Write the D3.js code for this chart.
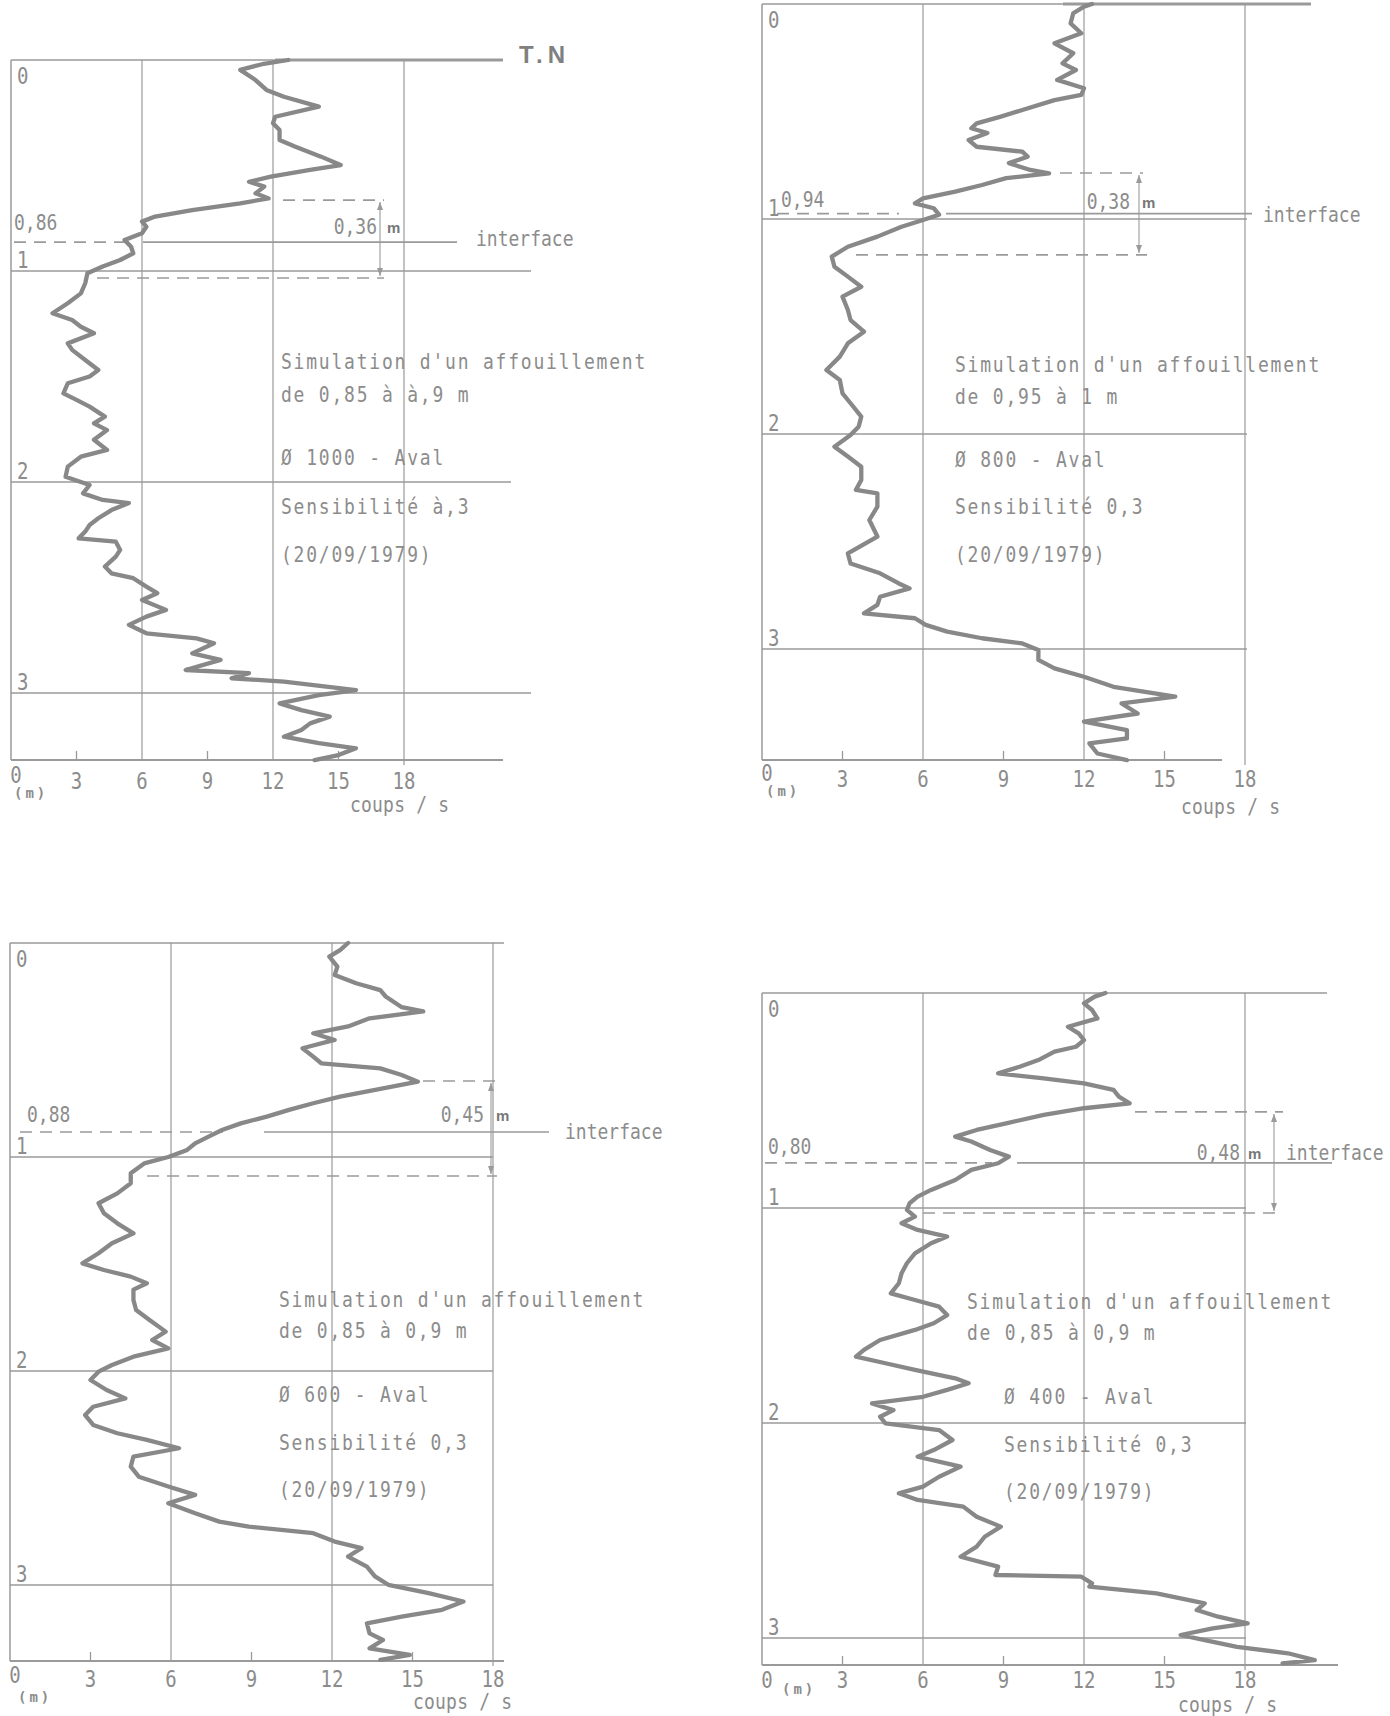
<!DOCTYPE html>
<html>
<head>
<meta charset="utf-8">
<script src="https://cdn.jsdelivr.net/npm/d3@7/dist/d3.min.js"></script>
<style>
  body { margin: 0; background: #fff; }
</style>
</head>
<body>
<div id="fig"></div>
<script>
// count rate axis (coups / s) and depth axis (m)
var rateTicks = [0, 3, 6, 9, 12, 15, 18]
var smallTicks = [3, 9, 15]
var gridRates = [6, 12, 18]
var depthMarks = [0, 1, 2, 3]

// panel 1 : diam 1000
var p1Depth = [0, 0.02, 0.047, 0.095, 0.142, 0.174, 0.221, 0.269, 0.30, 0.332, 0.379, 0.41, 0.458, 0.498, 0.521, 0.553, 0.577, 0.60, 0.632, 0.656, 0.679, 0.711, 0.742, 0.766, 0.79, 0.821, 0.853, 0.885, 0.916, 0.948, 0.979, 1.011, 1.058, 1.106, 1.153, 1.20, 1.232, 1.264, 1.295, 1.343, 1.374, 1.422, 1.469, 1.50, 1.532, 1.58, 1.611, 1.643, 1.69, 1.722, 1.754, 1.80, 1.848, 1.88, 1.927, 1.975, 2.014, 2.054, 2.085, 2.10, 2.133, 2.172, 2.204, 2.235, 2.267, 2.283, 2.322, 2.354, 2.401, 2.433, 2.456, 2.496, 2.527, 2.559, 2.606, 2.638, 2.677, 2.717, 2.741, 2.764, 2.812, 2.843, 2.891, 2.906, 2.93, 2.946, 2.986, 3.01, 3.049, 3.081, 3.112, 3.144, 3.175, 3.207, 3.238, 3.262, 3.294, 3.318]
var p1Rate  = [12.7, 11.5, 10.5, 11.2, 11.7, 12.5, 14.1, 12.1, 12.0, 12.3, 12.3, 13.0, 14.2, 15.1, 13.7, 11.9, 10.9, 11.6, 11.2, 11.8, 10.5, 8.3, 6.6, 6.0, 6.2, 6.0, 5.2, 5.5, 5.6, 5.0, 4.2, 3.5, 3.4, 3.2, 2.6, 1.9, 2.8, 3.2, 3.8, 2.6, 2.8, 3.4, 4.0, 3.6, 2.6, 2.4, 3.0, 3.6, 4.3, 3.8, 4.4, 3.8, 4.4, 3.2, 2.6, 2.5, 3.6, 3.3, 4.2, 5.4, 4.6, 4.0, 3.6, 3.4, 3.1, 4.8, 5.0, 4.8, 4.3, 4.6, 5.6, 6.2, 6.7, 6.0, 7.1, 6.2, 5.4, 6.2, 8.5, 9.3, 8.3, 9.6, 8.0, 10.9, 10.1, 12.5, 15.8, 14.1, 12.3, 13.3, 14.6, 13.7, 13.3, 12.5, 14.1, 15.8, 15.0, 13.9]

// panel 2 : diam 800
var p2Depth = [0, 0.012, 0.043, 0.09, 0.136, 0.183, 0.229, 0.276, 0.307, 0.353, 0.392, 0.423, 0.447, 0.493, 0.524, 0.555, 0.578, 0.60, 0.633, 0.664, 0.687, 0.71, 0.74, 0.772, 0.788, 0.81, 0.842, 0.873, 0.904, 0.927, 0.95, 0.98, 1.005, 1.036, 1.082, 1.129, 1.175, 1.222, 1.268, 1.315, 1.361, 1.423, 1.47, 1.524, 1.578, 1.64, 1.702, 1.749, 1.811, 1.857, 1.919, 1.966, 2.005, 2.059, 2.105, 2.152, 2.214, 2.26, 2.276, 2.338, 2.40, 2.477, 2.555, 2.602, 2.648, 2.695, 2.718, 2.757, 2.795, 2.834, 2.857, 2.888, 2.919, 2.95, 2.974, 3.005, 3.051, 3.09, 3.129, 3.176, 3.222, 3.253, 3.30, 3.338, 3.377, 3.416, 3.439, 3.486, 3.517]
var p2Rate  = [12.3, 12.0, 11.6, 11.5, 11.9, 10.9, 11.6, 11.2, 11.7, 11.0, 12.0, 11.9, 10.9, 9.7, 8.9, 8.0, 7.8, 8.4, 7.7, 8.0, 9.7, 9.9, 9.2, 10.0, 10.7, 9.1, 8.2, 7.2, 6.0, 5.7, 6.4, 6.6, 6.0, 5.2, 4.3, 3.2, 2.6, 2.7, 3.2, 3.7, 3.0, 3.2, 3.3, 3.8, 3.2, 2.9, 2.4, 2.9, 3.0, 3.3, 3.7, 3.6, 3.3, 2.7, 3.2, 3.7, 3.7, 3.5, 4.3, 4.3, 4.0, 4.3, 3.2, 3.3, 4.4, 5.1, 5.5, 4.4, 4.3, 3.8, 5.7, 6.1, 6.9, 8.2, 9.7, 10.3, 10.3, 10.9, 12.0, 13.1, 15.4, 13.4, 14.0, 12.0, 13.6, 13.6, 12.2, 12.5, 13.6]

// panel 3 : diam 600
var p3Depth = [0, 0.033, 0.064, 0.11, 0.15, 0.188, 0.22, 0.25, 0.30, 0.32, 0.352, 0.39, 0.422, 0.453, 0.492, 0.531, 0.562, 0.586, 0.617, 0.648, 0.679, 0.718, 0.749, 0.78, 0.81, 0.843, 0.874, 0.905, 0.936, 0.967, 1.00, 1.03, 1.076, 1.123, 1.17, 1.216, 1.263, 1.31, 1.357, 1.403, 1.45, 1.497, 1.528, 1.559, 1.59, 1.62, 1.668, 1.715, 1.762, 1.816, 1.855, 1.894, 1.933, 1.972, 2.003, 2.042, 2.089, 2.128, 2.167, 2.206, 2.252, 2.291, 2.322, 2.361, 2.40, 2.447, 2.494, 2.54, 2.579, 2.618, 2.665, 2.704, 2.727, 2.758, 2.797, 2.828, 2.867, 2.914, 2.96, 2.999, 3.038, 3.077, 3.116, 3.148, 3.179, 3.226, 3.257, 3.296, 3.327, 3.35]
var p3Rate  = [12.6, 12.3, 11.9, 12.2, 12.1, 12.9, 13.8, 14.0, 14.6, 15.4, 13.4, 12.6, 11.3, 12.1, 10.9, 11.3, 11.6, 13.8, 14.6, 15.2, 13.9, 12.3, 11.3, 10.4, 9.6, 8.6, 7.9, 7.4, 6.9, 6.6, 5.9, 5.0, 4.5, 4.5, 4.0, 3.3, 3.5, 4.0, 4.6, 3.8, 3.3, 2.7, 3.5, 4.5, 5.1, 4.6, 4.6, 4.7, 5.2, 5.8, 5.3, 5.9, 4.6, 3.8, 3.3, 3.0, 3.6, 4.3, 3.1, 2.8, 3.1, 4.0, 5.1, 6.3, 4.6, 4.5, 4.8, 5.9, 6.9, 5.9, 6.9, 7.8, 8.9, 11.3, 12.1, 13.1, 12.6, 13.3, 13.6, 14.1, 15.6, 16.9, 16.1, 14.6, 13.3, 13.4, 13.9, 13.4, 14.9, 13.8]

// panel 4 : diam 400
var p4Depth = [0, 0.017, 0.048, 0.079, 0.118, 0.157, 0.188, 0.219, 0.25, 0.273, 0.312, 0.343, 0.374, 0.397, 0.42, 0.451, 0.482, 0.513, 0.536, 0.567, 0.606, 0.637, 0.668, 0.691, 0.73, 0.761, 0.792, 0.823, 0.87, 0.916, 0.947, 0.978, 1.009, 1.04, 1.071, 1.102, 1.133, 1.164, 1.211, 1.257, 1.304, 1.35, 1.397, 1.428, 1.459, 1.498, 1.536, 1.567, 1.614, 1.66, 1.691, 1.722, 1.753, 1.792, 1.815, 1.846, 1.878, 1.909, 1.94, 1.971, 2.002, 2.033, 2.079, 2.126, 2.157, 2.203, 2.25, 2.296, 2.327, 2.358, 2.389, 2.436, 2.482, 2.529, 2.575, 2.622, 2.668, 2.707, 2.715, 2.746, 2.761, 2.792, 2.839, 2.87, 2.901, 2.932, 2.955, 2.986, 3.01, 3.041, 3.071, 3.103, 3.118]
var p4Rate  = [12.8, 12.4, 12.0, 12.3, 12.5, 11.4, 11.8, 12.0, 11.7, 10.9, 10.3, 9.6, 8.8, 10.5, 12.0, 13.1, 13.3, 13.7, 12.0, 10.5, 9.1, 8.0, 7.2, 7.8, 8.5, 9.2, 8.8, 7.8, 7.2, 6.3, 5.8, 5.5, 5.4, 5.7, 5.2, 5.8, 6.9, 6.3, 5.7, 5.4, 5.2, 5.1, 4.8, 5.7, 6.6, 6.9, 6.4, 5.7, 4.4, 3.8, 3.5, 4.6, 5.7, 7.2, 7.7, 6.9, 6.0, 4.1, 4.9, 4.4, 4.6, 6.6, 7.1, 6.4, 5.8, 7.4, 6.6, 6.0, 5.1, 5.8, 7.5, 8.0, 8.9, 8.3, 8.0, 7.4, 8.8, 8.7, 11.9, 12.3, 12.2, 14.7, 16.5, 16.2, 17.0, 18.1, 16.8, 15.6, 16.5, 17.7, 19.6, 20.6, 19.4]

// interface / scour (m)
var ifaceDepth = [0.863, 0.975, 0.883, 0.79]
var ifaceLabel = ["0,86", "0,94", "0,88", "0,80"]
var scourTop = [0.664, 0.786, 0.645, 0.553]
var scourBottom = [1.033, 1.167, 1.089, 1.023]
var scourLabel = ["0,36", "0,38", "0,45", "0,48"]

var notes = [
  ["Simulation d'un affouillement", "de 0,85 à à,9 m", "Ø 1000 - Aval", "Sensibilité à,3", "(20/09/1979)"],
  ["Simulation d'un affouillement", "de 0,95 à 1 m", "Ø 800 - Aval", "Sensibilité 0,3", "(20/09/1979)"],
  ["Simulation d'un affouillement", "de 0,85 à 0,9 m", "Ø 600 - Aval", "Sensibilité 0,3", "(20/09/1979)"],
  ["Simulation d'un affouillement", "de 0,85 à 0,9 m", "Ø 400 - Aval", "Sensibilité 0,3", "(20/09/1979)"]
]

var series = [[p1Depth, p1Rate], [p2Depth, p2Rate], [p3Depth, p3Rate], [p4Depth, p4Rate]]

// layout of the four panels (pixels)
var layout = [
  {x0: 11, x18: 404, y0: 60, pm: 211, axisY: 760, topEnd: 503, thickFrom: 275, lineEnds: [531, 511, 531], axisEnd: 503,
   noteX: [281, 281, 281, 281, 281], noteY: [362, 395, 458, 507, 555],
   lblX: 14, lblY: 223, dash: [14, 127], solid: [143, 457], ifX: 476, ifY: 239,
   up: [283, 384], low: [97, 384], arrowX: 380, gapX: 377, gapY: 227, mX: 387,
   zeroY: 775, tickDy: 21, unitX: 14, unitY: 793, coupsX: 350, coupsY: 805},
  {x0: 762, x18: 1245, y0: 4, pm: 215, axisY: 760, topEnd: 1311, thickFrom: 1063, lineEnds: [1247, 1247, 1247], axisEnd: 1222,
   noteX: [955, 955, 955, 955, 955], noteY: [365, 397, 460, 507, 555],
   lblX: 781, lblY: 200, dash: [777, 899], solid: [946, 1252], ifX: 1263, ifY: 215,
   up: [1060, 1143], low: [856, 1147], arrowX: 1139, gapX: 1130, gapY: 202, mX: 1142,
   zeroY: 773, tickDy: 19, unitX: 766, unitY: 791, coupsX: 1181, coupsY: 807},
  {x0: 10, x18: 493, y0: 943, pm: 214, axisY: 1661, topEnd: 504, thickFrom: null, lineEnds: [493, 493, 493], axisEnd: 504,
   noteX: [279, 279, 279, 279, 279], noteY: [1300, 1331, 1395, 1443, 1490],
   lblX: 27, lblY: 1115, dash: [20, 223], solid: [264, 549], ifX: 565, ifY: 1132,
   up: [423, 497], low: [147, 497], arrowX: 491, gapX: 484, gapY: 1115, mX: 496,
   zeroY: 1675, tickDy: 18, unitX: 18, unitY: 1697, coupsX: 413, coupsY: 1702},
  {x0: 762, x18: 1245, y0: 993, pm: 215, axisY: 1665, topEnd: 1327, thickFrom: null, lineEnds: [1246, 1246, 1246], axisEnd: 1338,
   noteX: [967, 967, 1004, 1004, 1004], noteY: [1302, 1333, 1397, 1445, 1492],
   lblX: 768, lblY: 1147, dash: [765, 992], solid: [1017, 1332], ifX: 1286, ifY: 1153,
   up: [1135, 1283], low: [923, 1283], arrowX: 1274, gapX: 1240, gapY: 1153, mX: 1248,
   zeroY: 1680, tickDy: 15, unitX: 782, unitY: 1689, coupsX: 1178, coupsY: 1705}
]

var ink = '#8c8c8c'
var lineInk = '#9a9a9a'
var mono = "'DejaVu Sans Mono', 'Liberation Mono', monospace"
var sans = "'Liberation Sans', Arial, sans-serif"

var svg = d3.select('#fig').append('svg')
  .attr('width', 1390)
  .attr('height', 1716)

function txt(g, x, y, s, o){
  o = o || {}
  return g.append('text')
    .attr('transform', 'translate(' + x + ',' + y + ') scale(1,' + (o.sy || 1) + ')')
    .attr('text-anchor', o.anchor || 'start')
    .attr('dominant-baseline', 'central')
    .style('font-family', o.font || mono)
    .style('font-size', (o.size || 18) + 'px')
    .style('font-weight', o.weight || 'normal')
    .style('letter-spacing', (o.ls || 0) + 'px')
    .attr('fill', o.fill || ink)
    .text(s)
}

function hline(g, x1, x2, y, w, dash){
  var l = g.append('line')
    .attr('x1', x1).attr('x2', x2)
    .attr('y1', y).attr('y2', y)
    .attr('stroke', lineInk)
    .attr('stroke-width', w || 1.3)
  if (dash) l.attr('stroke-dasharray', dash)
  return l
}

function drawPanel(i){
  var L = layout[i]
  var depth = series[i][0], rate = series[i][1]
  var g = svg.append('g').attr('class', 'panel')

  var x = d3.scaleLinear().domain([0, 18]).range([L.x0, L.x18])
  var y = d3.scaleLinear().domain([0, 1]).range([L.y0, L.y0 + L.pm])

  // left border and vertical grid
  g.append('line')
    .attr('x1', x(0)).attr('x2', x(0))
    .attr('y1', y(0)).attr('y2', L.axisY)
    .attr('stroke', lineInk).attr('stroke-width', 1.5)
  g.selectAll('.vgrid')
    .data(gridRates)
    .enter()
    .append('line')
    .attr('class', 'vgrid')
    .attr('x1', function(d){ return x(d) })
    .attr('x2', function(d){ return x(d) })
    .attr('y1', y(0))
    .attr('y2', function(d){ return d == 18 ? L.axisY + 5 : L.axisY })
    .attr('stroke', lineInk)
    .attr('stroke-width', 1.2)

  // depth lines
  depthMarks.forEach(function(d, k){
    var end = k == 0 ? L.topEnd : L.lineEnds[k - 1]
    hline(g, x(0), end, y(d), 1.4)
    txt(g, x(0) + 6, k == 0 ? y(d) + 16 : y(d) - 11, String(d), {size: 19, sy: 1.18})
  })
  if (L.thickFrom) hline(g, L.thickFrom, L.topEnd, y(0), 3)

  // bottom axis
  hline(g, x(0), L.axisEnd, L.axisY, 2)
  g.selectAll('.tick')
    .data(smallTicks)
    .enter()
    .append('line')
    .attr('x1', function(d){ return x(d) })
    .attr('x2', function(d){ return x(d) })
    .attr('y1', L.axisY - 9)
    .attr('y2', L.axisY)
    .attr('stroke', lineInk)
    .attr('stroke-width', 1.3)
  rateTicks.forEach(function(t){
    if (t == 0) txt(g, x(0) + 5, L.zeroY, '0', {size: 19, sy: 1.22, anchor: 'middle'})
    else txt(g, x(t), L.axisY + L.tickDy, String(t), {size: 19, sy: 1.22, anchor: 'middle'})
  })
  txt(g, L.unitX, L.unitY, '(m)', {size: 14, weight: 'bold', ls: 3})
  txt(g, L.coupsX, L.coupsY, 'coups / s', {size: 18, sy: 1.2, ls: 0.2})

  // interface + scour marks
  var yi = y(ifaceDepth[i])
  hline(g, L.dash[0], L.dash[1], yi, 1.6, '12,8')
  hline(g, L.solid[0], L.solid[1], yi, 1.6)
  txt(g, L.ifX, L.ifY, 'interface', {size: 18, sy: 1.2})
  txt(g, L.lblX, L.lblY, ifaceLabel[i], {size: 18, sy: 1.18})
  hline(g, L.up[0], L.up[1], y(scourTop[i]), 1.6, '12,8')
  hline(g, L.low[0], L.low[1], y(scourBottom[i]), 1.6, '12,8')

  var ya = y(scourTop[i]) + 2, yb = y(scourBottom[i]) - 2
  g.append('line')
    .attr('x1', L.arrowX).attr('x2', L.arrowX)
    .attr('y1', ya).attr('y2', yb)
    .attr('stroke', lineInk).attr('stroke-width', 1.1)
  g.append('path')
    .attr('d', 'M' + L.arrowX + ',' + ya + 'l-3,8l6,0z' + 'M' + L.arrowX + ',' + yb + 'l-3,-8l6,0z')
    .attr('fill', lineInk)
  txt(g, L.gapX, L.gapY, scourLabel[i], {size: 18, sy: 1.18, anchor: 'end'})
  txt(g, L.mX, L.gapY, 'm', {size: 15, weight: 'bold', font: sans, fill: '#777'})

  // notes
  notes[i].forEach(function(s, k){
    txt(g, L.noteX[k], L.noteY[k], s, {size: 18, sy: 1.15, ls: 1.8})
  })

  // recorded curve
  var pts = depth.map(function(d, k){ return {d: d, v: rate[k]} })
  var line = d3.line()
    .x(function(p){ return x(p.v) })
    .y(function(p){ return y(p.d) })
    .curve(d3.curveLinear)
  g.append('path')
    .datum(pts)
    .attr('d', line)
    .attr('fill', 'none')
    .attr('stroke', '#888888')
    .attr('stroke-width', 4.3)
    .attr('stroke-linejoin', 'round')
    .attr('stroke-linecap', 'round')

  return g
}

for (var i = 0; i < 4; i++) drawPanel(i)

// ground level mark, first panel
txt(svg, 519, 54, 'T.N', {size: 24, weight: 'bold', font: sans, fill: '#808080', ls: 5})
</script>
</body>
</html>
